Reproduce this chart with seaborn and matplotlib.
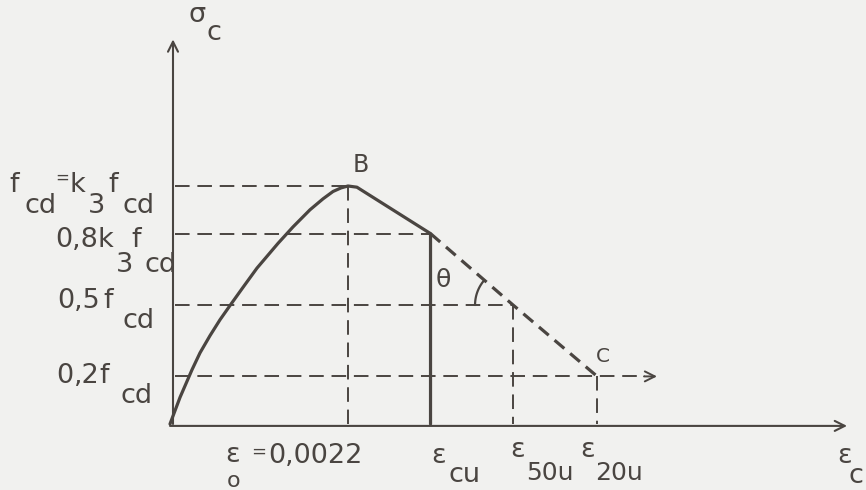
import numpy as np
import matplotlib
matplotlib.use("Agg")
import matplotlib.pyplot as plt
import seaborn as sns
from matplotlib.transforms import blended_transform_factory

sns.set_theme(style="white")
plt.rcParams["font.family"] = ["DejaVu Sans"]

# ---- stress-strain model of concrete (stress as a fraction of f_cd) ----
eps_rise = [0.0, 0.000124, 0.000272, 0.000371, 0.000494, 0.000618,
            0.000742, 0.000902, 0.001075, 0.001335, 0.001520, 0.001730,
            0.001891, 0.002015, 0.002114, 0.0022]
sig_rise = [0.0, 0.112, 0.228, 0.299, 0.371, 0.438,
            0.498, 0.574, 0.655, 0.759, 0.828, 0.900,
            0.946, 0.977, 0.992, 1.0]

eps_0 = 0.0022          # strain at peak stress (point B)
eps_cap = 0.00231       # end of the rounded top
sig_cap = 0.995
eps_cu = 0.00322        # ultimate strain
eps_50u = 0.00424       # strain at 0,5 f_cd on the falling branch
eps_20u = 0.00528       # strain at 0,2 f_cd (point C)

sig_cu, sig_50, sig_20 = 0.8, 0.5, 0.2

# label pieces per stress level: (left x in px, drop below level in px, text)
level_labels = {
    1.0: [(9, 6, "f"), (25, 27, "cd"), (70, 6, "k"), (88, 27, "3"),
          (108, 6, "f"), (123, 27, "cd")],
    0.8: [(55, 13, "0,8"), (97, 13, "k"), (116, 38, "3"),
          (131, 13, "f"), (145, 38, "cd")],
    0.5: [(57, 3, "0,5"), (103, 3, "f"), (122, 23, "cd")],
    0.2: [(56, 7, "0"), (74, 7, ",2"), (99, 7, "f"), (121, 27, "cd")],
}

INK = "#4a4541"
PAPER = "#f1f1ef"
FS = 19.5

W, H = 866, 490
fig = plt.figure(figsize=(W / 100, H / 100), dpi=100, facecolor=PAPER)
ax = fig.add_axes([0, 0, 1, 1])
ax.set_facecolor(PAPER)
ax.set_xlim(-0.0021011, 0.0086023)
ax.set_ylim(-0.2773, 1.7815)
ax.axis("off")

px = 0.0022 / 178.0     # strain per pixel, used for small offsets
x_axis0 = 3 * px        # the vertical axis sits a hair right of the origin
x_guides = 5 * px

# ---- axes with open arrow heads ----
arrow = dict(arrowstyle="->", lw=1.5, color=INK, shrinkA=0, shrinkB=0,
             mutation_scale=18)
ax.annotate("", xy=(x_axis0, 1.616), xytext=(x_axis0, 0.0), arrowprops=arrow)
ax.annotate("", xy=(0.008368, -0.008), xytext=(0.0, -0.008), arrowprops=arrow)

# ---- dashed guide lines ----
guide = dict(color=INK, lw=1.4, dashes=(7.5, 4.0))
ax.plot([x_guides, eps_0], [1.0, 1.0], **guide)
ax.plot([x_guides, eps_cu], [sig_cu, sig_cu], **guide)
ax.plot([x_guides, eps_50u], [sig_50, sig_50], **guide)
tip_20 = 0.006019
ax.plot([x_guides, tip_20 - 12 * px], [sig_20, sig_20], **guide)
ax.annotate("", xy=(tip_20, sig_20), xytext=(tip_20 - 13 * px, sig_20),
            arrowprops=dict(arrow, lw=1.4))
ax.plot([eps_0, eps_0], [1.0, 0.0], **guide)
ax.plot([eps_50u, eps_50u], [sig_50, 0.0], **guide)
ax.plot([eps_20u, eps_20u], [sig_20, 0.0], **guide)

# ---- solid curve: rising branch, peak B, falling branch to eps_cu ----
eps_solid = eps_rise + [eps_cap, eps_cu, eps_cu]
sig_solid = sig_rise + [sig_cap, sig_cu, 0.0]
sns.lineplot(x=eps_solid, y=sig_solid, sort=False, estimator=None,
             color=INK, lw=2.3, ax=ax)
ax.lines[-1].set_solid_joinstyle("round")

# ---- dashed extension of the falling branch down to C ----
ax.plot([eps_cu, eps_50u, eps_20u], [sig_cu, sig_50, sig_20],
        color=INK, lw=2.3, dashes=(4.0, 2.4), solid_capstyle="butt")

# ---- angle theta between the falling branch and the 0,5 f_cd line ----
fig.canvas.draw()
c = ax.transData.transform((eps_50u, sig_50))
d = ax.transData.transform((eps_cu, sig_cu)) - c
a_top = np.arctan2(d[1], d[0])
ang = np.linspace(a_top, np.pi, 30)
r = 38.0
arc_pts = np.column_stack([c[0] + r * np.cos(ang), c[1] + r * np.sin(ang)])
arc_data = ax.transData.inverted().transform(arc_pts)
ax.plot(arc_data[:, 0], arc_data[:, 1], color=INK, lw=1.6)

# ---- level labels on the stress axis ----
blend = blended_transform_factory(fig.transFigure, ax.transData)


def level_text(level, x_px, drop_px, s, size=FS):
    ax.annotate(s, xy=(x_px / W, level), xycoords=blend,
                xytext=(0, -drop_px * 0.72), textcoords="offset points",
                ha="left", va="baseline", fontsize=size, color=INK)


for lev, pieces in level_labels.items():
    for x_px, drop, s in pieces:
        level_text(lev, x_px, drop, s)
level_text(1.0, 55, -3, "=", size=12)


def fig_text(x_px, base_px, s, size=FS):
    fig.text(x_px / W, 1 - base_px / H, s, ha="left", va="baseline",
             fontsize=size, color=INK)


# stress axis title
fig_text(188, 22, "σ")
fig_text(206, 40, "c")
# strain axis title
fig_text(837, 463, "ε")
fig_text(849, 483, "c")

# strain marks under the axis
fig_text(225, 462, "ε")
fig_text(251, 457, "=", size=13)
fig_text(268, 463, "0,0022")
fig_text(227, 487, "o", size=16)
fig_text(431, 463, "ε")
fig_text(448, 482, "cu")
fig_text(510, 457, "ε")
fig_text(526, 480, "50u", size=18)
fig_text(580, 457, "ε")
fig_text(595, 480, "20u", size=18)

# points and angle
fig_text(353, 172, "B", size=17)
fig_text(596, 362, "C", size=14.5)
fig_text(436, 287, "θ", size=18)

fig.savefig("out.png", dpi=100, facecolor=PAPER)
